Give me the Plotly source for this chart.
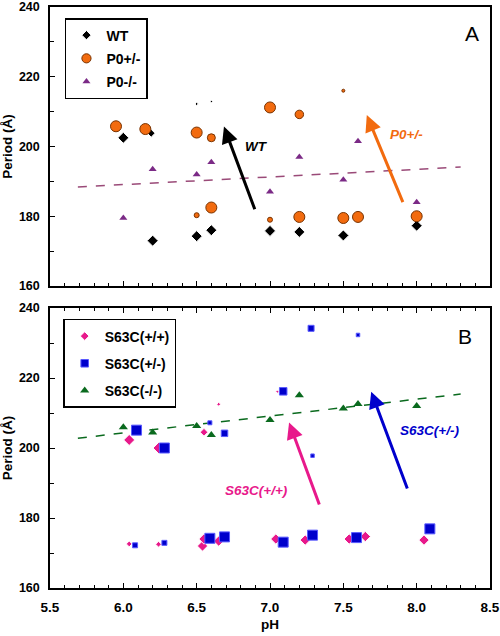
import plotly.graph_objects as go

# ---------------- Panel A data ----------------
wt_ph = [6.0, 6.19, 6.5, 6.6, 6.2, 6.5, 6.6, 7.0, 7.2, 7.5, 8.0]
wt_period = [202.5, 203.8, 212.2, 212.9, 173.0, 174.3, 176.0, 175.8, 175.5, 174.5, 177.3]
wt_size = [8.5, 6, 2.5, 2, 8.5, 8.5, 8.5, 8.5, 8.5, 8.5, 8.5]

p0het_ph = [5.95, 6.15, 6.5, 6.6, 7.0, 7.2, 7.5, 6.5, 6.6, 7.0, 7.2, 7.5, 7.6, 8.0]
p0het_period = [205.8, 205.0, 204.0, 202.5, 211.2, 209.2, 216.0, 180.3, 182.5, 179.0, 179.8, 179.5, 179.8, 180.0]
p0het_size = [11, 11, 11, 8, 11, 8.5, 3, 5, 11, 5, 11, 11, 11, 11]

p0ko_ph = [6.0, 6.2, 6.5, 6.6, 7.0, 7.2, 7.5, 7.6, 8.0]
p0ko_period = [179.5, 193.5, 192.0, 195.5, 187.0, 197.0, 190.5, 201.5, 184.0]

trendA_ph = [5.69, 8.3]
trendA_period = [188.4, 194.1]

# ---------------- Panel B data ----------------
s63_wt_ph = [6.04, 6.24, 6.54, 6.55, 6.65, 7.04, 7.24, 7.54, 7.65, 8.05, 6.04, 6.24, 6.55, 6.65, 7.05]
s63_wt_period = [172.6, 172.5, 172.0, 174.0, 173.4, 174.0, 173.7, 174.0, 174.7, 173.7, 202.3, 200.0, 204.5, 212.5, 216.1]
s63_wt_size = [4.5, 4.5, 8, 8, 8, 8, 8, 8, 8, 8, 8.5, 8.5, 6, 3, 2.5]

s63_het_ph = [6.08, 6.28, 6.59, 6.69, 7.09, 7.29, 7.59, 8.09, 7.29, 6.09, 6.28, 6.59, 6.69, 7.09, 7.28, 7.6]
s63_het_period = [172.2, 172.9, 174.2, 174.6, 173.1, 175.1, 174.4, 176.9, 197.8, 205.1, 200.0, 207.2, 204.2, 216.2, 234.2, 232.3]
s63_het_size = [5, 5, 10, 10, 10, 10, 10, 10, 3.5, 10, 10, 4, 6.5, 7.5, 6, 3.5]

s63_ko_ph = [6.0, 6.2, 6.5, 6.6, 7.0, 7.2, 7.5, 7.6, 8.0]
s63_ko_period = [205.9, 204.4, 206.3, 203.7, 208.0, 215.1, 211.3, 212.6, 212.0]

trendB_ph = [5.69, 8.3]
trendB_period = [202.8, 215.4]

# arrows: (tail_x, tail_y, head_x, head_y)
arrow_wt = [6.90, 181.6, 6.686, 205.7]
arrow_p0het = [7.91, 183.6, 7.66, 209.0]
arrow_s63wt = [7.34, 183.4, 7.13, 207.3]
arrow_s63het = [7.94, 188.0, 7.69, 216.1]

BLACK = "#000000"
ORANGE = "#f26b0f"
PURPLE = "#7b2a86"
MAUVE = "#9a4a78"
PINK = "#e8198b"
BLUE = "#0000cc"
GREEN = "#0a6a1e"

FONT = "Liberation Sans, Arial"

fig = go.Figure()

# Panel A
fig.add_trace(go.Scatter(x=trendA_ph, y=trendA_period, mode="lines",
                         line=dict(color=MAUVE, width=1.5, dash="dash"),
                         showlegend=False, xaxis="x", yaxis="y", hoverinfo="skip"))
fig.add_trace(go.Scatter(x=wt_ph, y=wt_period, mode="markers", name="WT", legendgroup="a1",
                         marker=dict(symbol="diamond", color=BLACK, size=wt_size, opacity=1),
                         xaxis="x", yaxis="y", legend="legend"))
fig.add_trace(go.Scatter(x=p0het_ph, y=p0het_period, mode="markers", name="P0+/-", legendgroup="a2",
                         marker=dict(symbol="circle", color=ORANGE, size=p0het_size, opacity=1,
                                     line=dict(color="#7a3300", width=1)),
                         xaxis="x", yaxis="y", legend="legend"))
fig.add_trace(go.Scatter(x=p0ko_ph, y=p0ko_period, mode="markers", name="P0-/-", legendgroup="a3",
                         marker=dict(symbol="triangle-up", color=PURPLE, size=7, opacity=1),
                         xaxis="x", yaxis="y", legend="legend"))

# Panel B
fig.add_trace(go.Scatter(x=trendB_ph, y=trendB_period, mode="lines",
                         line=dict(color=GREEN, width=1.5, dash="dash"),
                         showlegend=False, xaxis="x2", yaxis="y2", hoverinfo="skip"))
fig.add_trace(go.Scatter(x=s63_wt_ph, y=s63_wt_period, mode="markers", name="S63C(+/+)", legendgroup="b1",
                         marker=dict(symbol="diamond", color=PINK, size=s63_wt_size, opacity=1),
                         xaxis="x2", yaxis="y2", legend="legend2"))
fig.add_trace(go.Scatter(x=s63_het_ph, y=s63_het_period, mode="markers", name="S63C(+/-)", legendgroup="b2",
                         marker=dict(symbol="square", color=BLUE, size=s63_het_size, opacity=1,
                                     line=dict(color="#5a5aff", width=1)),
                         xaxis="x2", yaxis="y2", legend="legend2"))
fig.add_trace(go.Scatter(x=s63_ko_ph, y=s63_ko_period, mode="markers", name="S63C(-/-)", legendgroup="b3",
                         marker=dict(symbol="triangle-up", color=GREEN, size=8, opacity=1),
                         xaxis="x2", yaxis="y2", legend="legend2"))

ytickfont = dict(family=FONT, size=12.5, color="black", weight="bold")
xtickfont = dict(family=FONT, size=13.5, color="black", weight="bold")
titlefont = dict(family=FONT, size=13.5, color="black", weight="bold")

common_x = dict(range=[5.5, 8.5], dtick=0.5, tick0=5.5, ticks="inside", ticklen=5,
                tickwidth=1, tickcolor="black", showline=True, linecolor="black", linewidth=1.5,
                showgrid=False, zeroline=False, automargin=False, ticklabeloverflow="allow",
                minor=dict(dtick=0.1, ticks="inside", ticklen=3, tickcolor="black", showgrid=False),
                tickfont=xtickfont, tickformat=".1f", ticklabelstandoff=6)
common_y = dict(range=[160, 240], dtick=20, ticks="inside", ticklen=5, tickwidth=1,
                tickcolor="black", showline=True, linecolor="black", linewidth=1.5,
                showgrid=False, zeroline=False, mirror=True, automargin=False,
                ticklabeloverflow="allow",
                minor=dict(dtick=10, ticks="inside", ticklen=4, tickcolor="black", showgrid=False),
                tickfont=ytickfont, ticklabelstandoff=6,
                title=dict(text="Period (Å)", font=titlefont, standoff=6))

legend_common = dict(xanchor="left", yanchor="top", bordercolor="black", borderwidth=1.5,
                     bgcolor="white", itemsizing="trace",
                     font=dict(family=FONT, size=14, color="black", weight="bold"))

fig.update_layout(
    width=500, height=636,
    margin=dict(l=50, r=10, t=7, b=48),
    paper_bgcolor="white", plot_bgcolor="white",
    xaxis=dict(**common_x, domain=[0, 1], anchor="y", showticklabels=False, mirror=True),
    yaxis=dict(**common_y, domain=[0.5198, 1], anchor="x"),
    xaxis2=dict(**common_x, domain=[0, 1], anchor="y2", mirror="ticks",
                title=dict(text="pH", font=titlefont, standoff=6)),
    yaxis2=dict(**common_y, domain=[0, 0.4819], anchor="x2"),
    legend=dict(**legend_common, x=0.034, y=0.981, tracegroupgap=2),
    legend2=dict(**legend_common, x=0.03, y=0.463, tracegroupgap=6),
    showlegend=True,
)

def add_arrow(a, color, xref, yref, width=3):
    fig.add_annotation(x=a[2], y=a[3], ax=a[0], ay=a[1], xref=xref, yref=yref,
                       axref=xref, ayref=yref, showarrow=True, arrowhead=2,
                       arrowsize=1.1, arrowwidth=width, arrowcolor=color, text="")

add_arrow(arrow_wt, BLACK, "x", "y")
add_arrow(arrow_p0het, ORANGE, "x", "y")
add_arrow(arrow_s63wt, PINK, "x2", "y2")
add_arrow(arrow_s63het, BLUE, "x2", "y2")

lab = dict(family=FONT, size=13.5, weight="bold", style="italic")
fig.add_annotation(x=6.91, y=200, xref="x", yref="y", text="WT", showarrow=False,
                   font=dict(**lab, color=BLACK))
fig.add_annotation(x=7.93, y=203.3, xref="x", yref="y", text="P0+/-", showarrow=False,
                   font=dict(**lab, color=ORANGE))
fig.add_annotation(x=6.91, y=188, xref="x2", yref="y2", text="S63C(+/+)", showarrow=False,
                   font=dict(**lab, color=PINK))
fig.add_annotation(x=8.09, y=205.1, xref="x2", yref="y2", text="S63C(+/-)", showarrow=False,
                   font=dict(**lab, color=BLUE))
fig.add_annotation(x=8.38, y=232.3, xref="x", yref="y", text="A", showarrow=False,
                   font=dict(family=FONT, size=21, color="black"))
fig.add_annotation(x=8.33, y=231.8, xref="x2", yref="y2", text="B", showarrow=False,
                   font=dict(family=FONT, size=21, color="black"))

fig.write_html("out.html", config={"displayModeBar": False},
               post_script="document.body.style.margin='0';")
